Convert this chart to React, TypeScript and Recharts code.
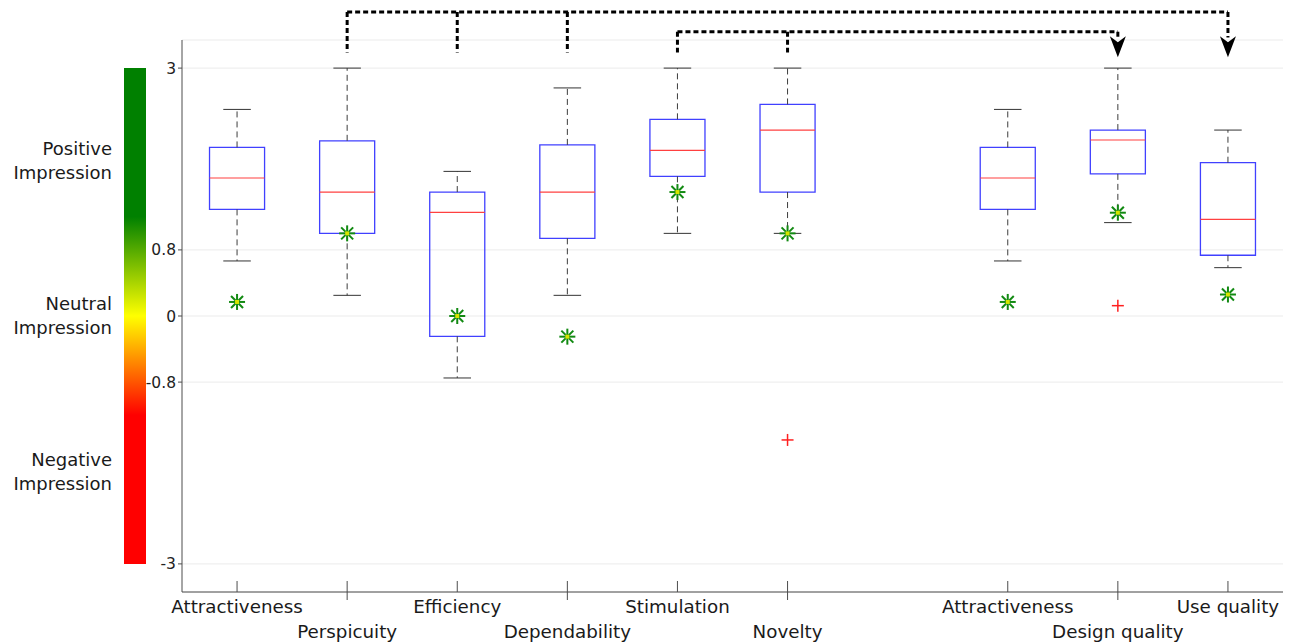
import {
  CartesianGrid,
  ComposedChart,
  ReferenceArea,
  ReferenceDot,
  ReferenceLine,
  Scatter,
  XAxis,
  YAxis,
} from "recharts";

// scale categories, plotted at x positions (7 left empty as a gap)
const categories = [
  "Attractiveness",
  "Perspicuity",
  "Efficiency",
  "Dependability",
  "Stimulation",
  "Novelty",
  "Attractiveness",
  "Design quality",
  "Use quality",
];
const positions = [1, 2, 3, 4, 5, 6, 8, 9, 10];

const whiskerHigh = [2.5, 3.0, 1.75, 2.76, 3.0, 3.0, 2.5, 3.0, 2.25];
const q3 = [2.04, 2.12, 1.5, 2.07, 2.38, 2.56, 2.04, 2.25, 1.855];
const median = [1.67, 1.5, 1.255, 1.5, 2.005, 2.25, 1.67, 2.13, 1.17];
const q1 = [1.29, 1.0, -0.246, 0.94, 1.69, 1.5, 1.29, 1.72, 0.735];
const whiskerLow = [0.666, 0.25, -0.75, 0.25, 1.0, 1.0, 0.666, 1.13, 0.585];
const markerValues = [0.17, 1.0, 0.0, -0.25, 1.5, 1.0, 0.17, 1.25, 0.26];

const outlierPos = [6, 9];
const outlierValues = [-1.5, 0.125];

const yTicks = [-3, -0.8, 0, 0.8, 3];

// dotted brackets over the chart: sources -> target arrow
const bracketSources = [[2, 3, 4], [5, 6]];
const bracketTargets = [10, 9];
const bracketLevels = [3.68, 3.44];

const impressionLabels = [
  ["Positive", "Impression"],
  ["Neutral", "Impression"],
  ["Negative", "Impression"],
];

const FONT = "DejaVu Sans, sans-serif";
const AXIS = "#4d4d4d";
const WHISKER = "#3c3c3c";
const HALF_BOX = 0.25;
const HALF_CAP = 0.125;
const DROP_END = 3.19;
const ARROW_TIP = 3.13;
const ARROW_TOP = 3.37;

const markerData = positions.map((x, i) => ({ x, y: markerValues[i] }));
const outlierData = outlierPos.map((x, i) => ({ x, y: outlierValues[i] }));

function Star(props: { cx?: number; cy?: number }) {
  const { cx, cy } = props;
  if (cx === undefined || cy === undefined) return <g />;
  const r = 8;
  const d = 6;
  return (
    <g stroke="#128a12" strokeWidth={2}>
      <line x1={cx - r} x2={cx + r} y1={cy} y2={cy} />
      <line x1={cx} x2={cx} y1={cy - r} y2={cy + r} />
      <line x1={cx - d} x2={cx + d} y1={cy - d} y2={cy + d} />
      <line x1={cx - d} x2={cx + d} y1={cy + d} y2={cy - d} />
      <rect x={cx - 2} y={cy - 2} width={4} height={4} fill="#d6e400" stroke="none" />
    </g>
  );
}

function Plus(props: { cx?: number; cy?: number }) {
  const { cx, cy } = props;
  if (cx === undefined || cy === undefined) return <g />;
  return (
    <g stroke="#ff2020" strokeWidth={1.5}>
      <line x1={cx - 6} x2={cx + 6} y1={cy} y2={cy} />
      <line x1={cx} x2={cx} y1={cy - 6} y2={cy + 6} />
    </g>
  );
}

function ArrowHead(props: { cx?: number; cy?: number }) {
  const { cx, cy } = props;
  if (cx === undefined || cy === undefined) return <g />;
  return (
    <path
      d={`M${cx},${cy} L${cx - 8},${cy - 21} L${cx},${cy - 15} L${cx + 8},${cy - 21} Z`}
      fill="#000"
    />
  );
}

function XTick(props: {
  x?: number;
  y?: number;
  payload?: { value: number };
  index?: number;
}) {
  const { x = 0, y = 0, payload } = props;
  const i = positions.indexOf(payload?.value ?? -1);
  const low = i % 2 === 1;
  return (
    <g>
      <line x1={x} x2={x} y1={y - 11} y2={low ? y + 8 : y} stroke={AXIS} />
      <text
        x={x}
        y={y + (low ? 46 : 21)}
        textAnchor="middle"
        fontSize={18.3}
        fontFamily={FONT}
        fill="#1a1a1a"
      >
        {categories[i]}
      </text>
    </g>
  );
}

export default function App() {
  return (
    <div
      style={{
        position: "absolute",
        left: 0,
        top: 0,
        width: 1297,
        height: 643,
        background: "#fff",
        fontFamily: FONT,
      }}
    >
      <ComposedChart
        width={1297}
        height={643}
        margin={{ top: 40, right: 14, bottom: 0, left: 122 }}
      >
        <CartesianGrid vertical={false} stroke="#ebebeb" />
        <XAxis
          type="number"
          dataKey="x"
          domain={[0.5, 10.5]}
          ticks={positions}
          allowDataOverflow
          height={51}
          stroke={AXIS}
          tickLine={false}
          tickSize={0}
          tickMargin={0}
          tick={<XTick />}
          interval={0}
        />
        <YAxis
          type="number"
          dataKey="y"
          domain={[-3.34, 3.34]}
          ticks={yTicks}
          allowDataOverflow
          width={60}
          stroke={AXIS}
          tickSize={4}
          tickMargin={2}
          interval={0}
          tick={{ fontSize: 15.5, fontFamily: FONT, fill: "#222" }}
        />

        {positions.map((x, i) => (
          <ReferenceLine
            key={`wh-${i}`}
            segment={[
              { x, y: q3[i] },
              { x, y: whiskerHigh[i] },
            ]}
            stroke={WHISKER}
            strokeDasharray="6 4"
            ifOverflow="visible"
          />
        ))}
        {positions.map((x, i) => (
          <ReferenceLine
            key={`wl-${i}`}
            segment={[
              { x, y: q1[i] },
              { x, y: whiskerLow[i] },
            ]}
            stroke={WHISKER}
            strokeDasharray="6 4"
            ifOverflow="visible"
          />
        ))}
        {positions.map((x, i) => (
          <ReferenceLine
            key={`ch-${i}`}
            segment={[
              { x: x - HALF_CAP, y: whiskerHigh[i] },
              { x: x + HALF_CAP, y: whiskerHigh[i] },
            ]}
            stroke="#333"
            ifOverflow="visible"
          />
        ))}
        {positions.map((x, i) => (
          <ReferenceLine
            key={`cl-${i}`}
            segment={[
              { x: x - HALF_CAP, y: whiskerLow[i] },
              { x: x + HALF_CAP, y: whiskerLow[i] },
            ]}
            stroke="#333"
            ifOverflow="visible"
          />
        ))}
        {positions.map((x, i) => (
          <ReferenceArea
            key={`box-${i}`}
            x1={x - HALF_BOX}
            x2={x + HALF_BOX}
            y1={q1[i]}
            y2={q3[i]}
            fill="none"
            fillOpacity={0}
            stroke="#4040ff"
            strokeWidth={1.3}
            ifOverflow="visible"
          />
        ))}
        {positions.map((x, i) => (
          <ReferenceLine
            key={`med-${i}`}
            segment={[
              { x: x - HALF_BOX, y: median[i] },
              { x: x + HALF_BOX, y: median[i] },
            ]}
            stroke="#ff4040"
            strokeWidth={1.2}
            ifOverflow="visible"
          />
        ))}

        {bracketSources.map((src, g) => {
          const level = bracketLevels[g];
          const target = bracketTargets[g];
          return [
            <ReferenceLine
              key={`bh-${g}`}
              segment={[
                { x: src[0], y: level },
                { x: target, y: level },
              ]}
              stroke="#000"
              strokeWidth={3}
              strokeDasharray="5 3"
              ifOverflow="visible"
            />,
            ...src.map((x) => (
              <ReferenceLine
                key={`bv-${g}-${x}`}
                segment={[
                  { x, y: level },
                  { x, y: DROP_END },
                ]}
                stroke="#000"
                strokeWidth={3}
                strokeDasharray="5 3"
                ifOverflow="visible"
              />
            )),
            <ReferenceLine
              key={`bt-${g}`}
              segment={[
                { x: target, y: level },
                { x: target, y: ARROW_TOP },
              ]}
              stroke="#000"
              strokeWidth={3}
              strokeDasharray="5 3"
              ifOverflow="visible"
            />,
            <ReferenceDot
              key={`ba-${g}`}
              x={target}
              y={ARROW_TIP}
              ifOverflow="visible"
              shape={<ArrowHead />}
            />,
          ];
        })}

        <Scatter
          data={outlierData}
          dataKey="y"
          shape={<Plus />}
          isAnimationActive={false}
        />
        <Scatter
          data={markerData}
          dataKey="y"
          shape={<Star />}
          isAnimationActive={false}
        />
      </ComposedChart>

      <div
        style={{
          position: "absolute",
          left: 124,
          top: 68,
          width: 22,
          height: 496,
          background:
            "linear-gradient(to bottom, #008000 0%, #008000 30%, #ffff00 50%, #ff0000 70%, #ff0000 100%)",
        }}
      />
      {impressionLabels.map((lines, i) => (
        <div
          key={i}
          style={{
            position: "absolute",
            right: 1297 - 112,
            top: [137, 292, 448][i],
            fontSize: 18,
            lineHeight: "24px",
            textAlign: "right",
            color: "#1a1a1a",
            whiteSpace: "nowrap",
          }}
        >
          {lines[0]}
          <br />
          {lines[1]}
        </div>
      ))}
    </div>
  );
}
